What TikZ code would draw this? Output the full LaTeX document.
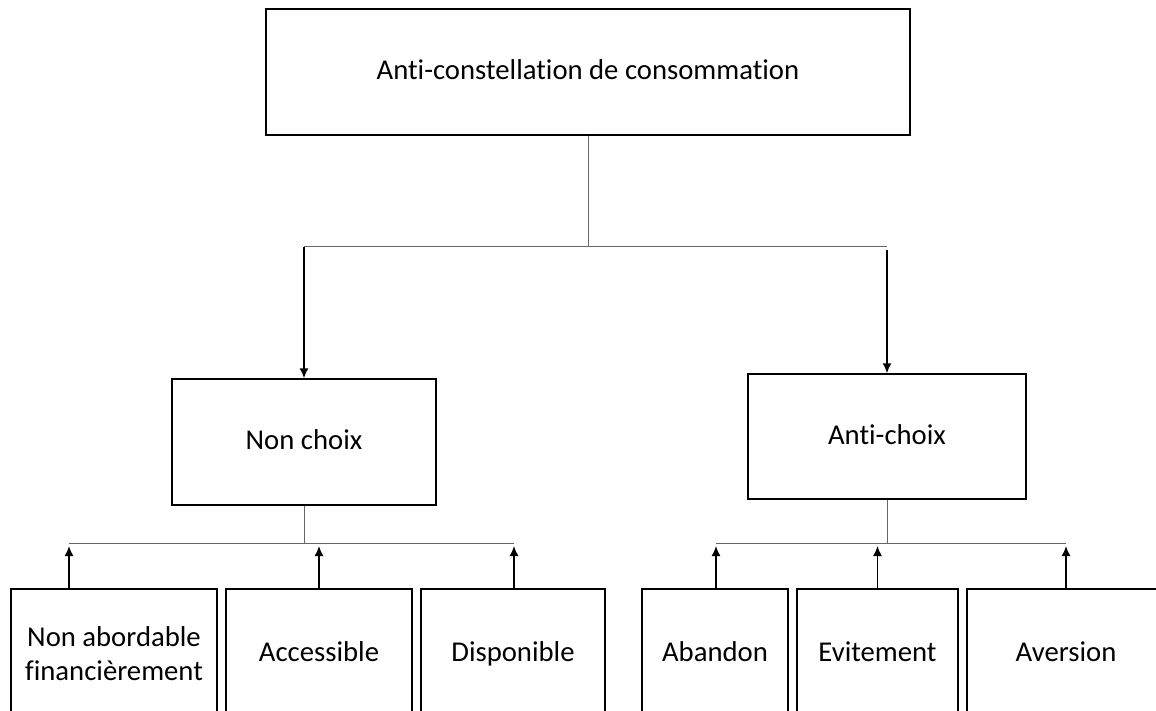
\documentclass[tikz,border=0pt]{standalone}
\usepackage{fontspec}
\setmainfont{Carlito}[Ligatures=NoCommon]
\usetikzlibrary{arrows.meta}

\begin{document}
\begin{tikzpicture}[x=1pt,y=-1pt,
  box/.style={draw=black,line width=1.5pt,fill=white,inner sep=0pt,
    align=center,font=\fontsize{28.7}{34}\selectfont},
  oneline/.style={text height=21pt,text depth=6pt},
  link/.style={draw=black!60,line width=1pt},
  uparrow/.style={draw=black,line width=1.5pt,-{Latex[length=10pt,width=9pt]}}]

  \useasboundingbox (0,0) rectangle (1156,711);
  \clip (0,0) rectangle (1156,711);

  % root
  \node[box,oneline,minimum width=644pt,minimum height=126pt] (top) at (588,72)
    {Anti-constellation de consommation};

  % second level
  \node[box,oneline,minimum width=264pt,minimum height=126pt] (nonchoix) at (304,442) {Non choix};
  \node[box,oneline,minimum width=278pt,minimum height=125pt] (antichoix) at (887,436.5) {Anti-choix};

  % third level (boxes run past the lower edge)
  \node[box,minimum width=206pt,minimum height=130pt] (nab) at (114,654)
    {Non abordable\\financièrement};
  \node[box,oneline,minimum width=186pt,minimum height=130pt] (acc) at (319,654) {Accessible};
  \node[box,oneline,minimum width=184pt,minimum height=130pt] (dis) at (513,654) {Disponible};
  \node[box,oneline,minimum width=146pt,minimum height=130pt] (aba) at (715,654) {Abandon};
  \node[box,oneline,minimum width=161pt,minimum height=130pt] (evi) at (877.5,654) {Evitement};
  \node[box,oneline,minimum width=198pt,minimum height=130pt] (ave) at (1066,654) {Aversion};

  % branching lines
  \coordinate (hL) at (304,247);
  \coordinate (hR) at (887,247);
  \coordinate (lL) at (69,543);
  \coordinate (lR) at (514,543);
  \coordinate (rL) at (716,543);
  \coordinate (rR) at (1066,543);
  \coordinate (tip) at (0,546);

  % root to second level
  \draw[link] (top.south) -- (top.south |- hL);
  \draw[link] (hL) -- (hR);
  \draw[uparrow] (hL) -- (nonchoix.north);
  \draw[uparrow] ([yshift=-3pt]hR) -- (antichoix.north);

  % Non choix group
  \draw[link] (nonchoix.south) -- (nonchoix.south |- lL);
  \draw[link] (lL) -- (lR);
  \draw[uparrow] (nab.north -| lL) -- (lL |- tip);
  \draw[uparrow] (acc.north) -- (acc.north |- tip);
  \draw[uparrow] (dis.north -| lR) -- (lR |- tip);

  % Anti-choix group
  \draw[link] (antichoix.south) -- (antichoix.south |- rL);
  \draw[link] (rL) -- (rR);
  \draw[uparrow] (aba.north -| rL) -- (rL |- tip);
  \draw[uparrow] (evi.north) -- (evi.north |- tip);
  \draw[uparrow] (ave.north -| rR) -- (rR |- tip);
\end{tikzpicture}
\end{document}
